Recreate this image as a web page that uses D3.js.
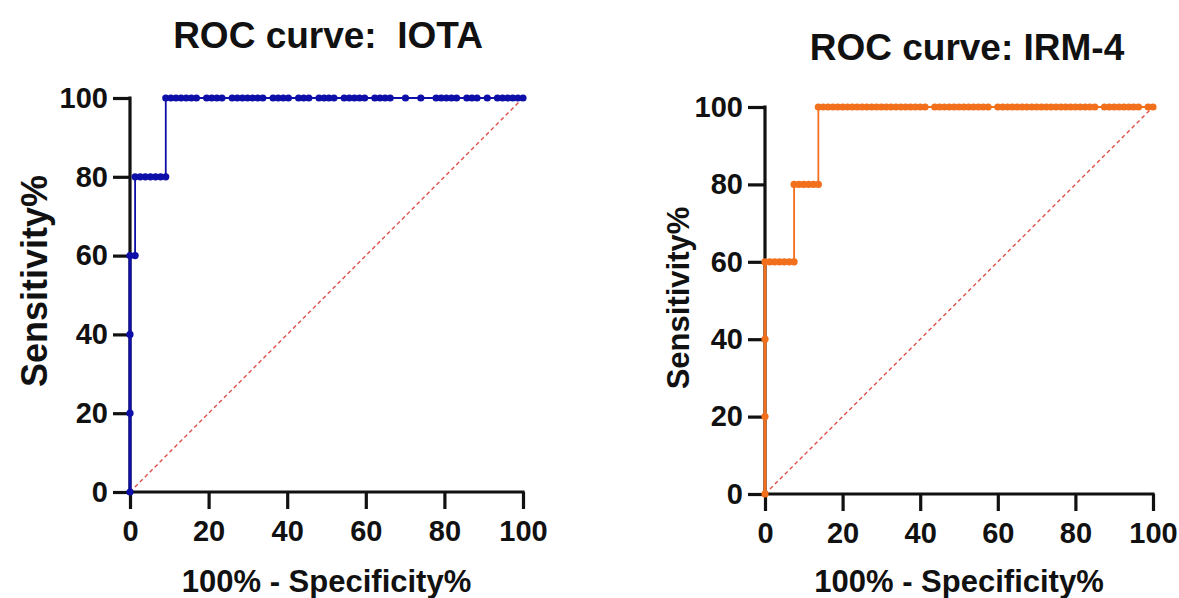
<!DOCTYPE html>
<html>
<head>
<meta charset="utf-8">
<script src="https://cdn.jsdelivr.net/npm/d3@7"></script>
<style>
  html, body { margin: 0; padding: 0; background: #fff; }
  svg { display: block; }
  text { font-family: "Liberation Sans", Arial, sans-serif; font-weight: bold; fill: #111; white-space: pre; }
</style>
</head>
<body>
<svg id="chart" width="1179" height="598"></svg>
<script>
// Axis ticks shared by both panels
const tickValues = [0, 20, 40, 60, 80, 100];

// IOTA: 100% - specificity (%) and sensitivity (%) at each cut-off
const iotaFpr = [0, 0, 0, 0, 1.3, 1.3, 2.6, 3.9, 5.2, 6.5, 7.8, 9.1, 9.1,
  10.4, 11.7, 13.0, 14.3, 15.6, 16.9, 19.5, 20.8, 22.1, 23.4, 26.0, 27.3, 28.6,
  29.9, 31.2, 32.5, 33.8, 36.4, 37.7, 39.0, 40.3, 42.9, 44.2, 45.5, 48.1, 49.4,
  50.6, 51.9, 54.5, 55.8, 57.1, 58.4, 59.7, 62.3, 63.6, 64.9, 66.2, 70.1, 74.0,
  77.9, 79.2, 80.5, 81.8, 83.1, 85.7, 87.0, 88.3, 90.9, 93.5, 94.8, 96.1, 97.4,
  98.7, 100];
const iotaSens = [0, 20, 40, 60, 60, 80, 80, 80, 80, 80, 80, 80, 100,
  100, 100, 100, 100, 100, 100, 100, 100, 100, 100, 100, 100, 100,
  100, 100, 100, 100, 100, 100, 100, 100, 100, 100, 100, 100, 100,
  100, 100, 100, 100, 100, 100, 100, 100, 100, 100, 100, 100, 100,
  100, 100, 100, 100, 100, 100, 100, 100, 100, 100, 100, 100, 100,
  100, 100];

// IRM-4: 100% - specificity (%) and sensitivity (%) at each cut-off
const irmFpr = [0, 0, 0, 0, 1.25, 2.5, 3.75, 5.0, 6.25, 7.5, 7.5, 8.75, 10.0,
  11.25, 12.5, 13.75, 13.75, 15.0, 16.25, 17.5, 18.75, 20.0, 21.25, 22.5, 23.75,
  25.0, 26.25, 27.5, 28.75, 30.0, 31.25, 32.5, 33.75, 35.0, 36.25, 37.5, 38.75,
  40.0, 41.25, 43.75, 45.0, 46.25, 47.5, 48.75, 50.0, 51.25, 52.5, 53.75, 55.0,
  56.25, 57.5, 60.0, 61.25, 62.5, 63.75, 65.0, 66.25, 67.5, 68.75, 70.0, 71.25,
  72.5, 73.75, 75.0, 76.25, 77.5, 78.75, 80.0, 81.25, 82.5, 83.75, 85.0, 87.5,
  88.75, 90.0, 91.25, 92.5, 93.75, 95.0, 96.25, 98.75, 100];
const irmSens = [0, 20, 40, 60, 60, 60, 60, 60, 60, 60, 80, 80, 80,
  80, 80, 80, 100, 100, 100, 100, 100, 100, 100, 100, 100,
  100, 100, 100, 100, 100, 100, 100, 100, 100, 100, 100, 100,
  100, 100, 100, 100, 100, 100, 100, 100, 100, 100, 100, 100,
  100, 100, 100, 100, 100, 100, 100, 100, 100, 100, 100, 100,
  100, 100, 100, 100, 100, 100, 100, 100, 100, 100, 100, 100,
  100, 100, 100, 100, 100, 100, 100, 100, 100];

// Chance line endpoints
const diagonal = [0, 100];

const svg = d3.select("#chart");

const panels = [
  { title: "ROC curve:  IOTA", fpr: iotaFpr, sens: iotaSens, color: "#0e0ea8",
    x0: 130, x1: 523, y0: 492, y1: 98, titleX: 328, titleY: 48, titleSize: 37,
    ylabX: 47, ylabY: 281, ylabSize: 36 },
  { title: "ROC curve: IRM-4", fpr: irmFpr, sens: irmSens, color: "#f26f1c",
    x0: 765, x1: 1153, y0: 494, y1: 107, titleX: 967, titleY: 60, titleSize: 37,
    ylabX: 689, ylabY: 298, ylabSize: 31 }
];

panels.forEach(p => {
  const x = d3.scaleLinear().domain([0, 100]).range([p.x0, p.x1]);
  const y = d3.scaleLinear().domain([0, 100]).range([p.y0, p.y1]);
  const g = svg.append("g");

  // title
  g.append("text")
    .attr("x", p.titleX).attr("y", p.titleY)
    .attr("text-anchor", "middle")
    .style("font-size", p.titleSize + "px")
    .text(p.title);

  // axes
  const xAxis = g.append("g")
    .attr("transform", `translate(0,${p.y0})`)
    .call(d3.axisBottom(x).tickValues(tickValues).tickSize(17).tickPadding(11));
  const yAxis = g.append("g")
    .attr("transform", `translate(${p.x0},0)`)
    .call(d3.axisLeft(y).tickValues(tickValues).tickSize(17).tickPadding(5));
  [xAxis, yAxis].forEach(a => {
    a.select(".domain").remove();
    a.selectAll(".tick line").attr("stroke", "#111").attr("stroke-width", 3.2);
    a.selectAll(".tick text").style("font-size", "29px")
      .style("font-family", "'Liberation Sans', Arial, sans-serif")
      .style("font-weight", "bold").attr("fill", "#111");
  });
  g.append("line").attr("x1", p.x0 - 1.6).attr("x2", p.x1 + 1.6)
    .attr("y1", p.y0).attr("y2", p.y0)
    .attr("stroke", "#111").attr("stroke-width", 3.2);
  g.append("line").attr("x1", p.x0).attr("x2", p.x0)
    .attr("y1", p.y0 + 1.6).attr("y2", p.y1 - 1.6)
    .attr("stroke", "#111").attr("stroke-width", 3.2);

  // axis titles
  g.append("text")
    .attr("x", (p.x0 + p.x1) / 2).attr("y", 592)
    .attr("text-anchor", "middle")
    .style("font-size", "31px")
    .text("100% - Specificity%");
  g.append("text")
    .attr("transform", `translate(${p.ylabX},${p.ylabY}) rotate(-90)`)
    .attr("text-anchor", "middle")
    .style("font-size", p.ylabSize + "px")
    .text("Sensitivity%");

  // chance diagonal
  g.append("line")
    .attr("x1", x(diagonal[0])).attr("y1", y(diagonal[0]))
    .attr("x2", x(diagonal[1])).attr("y2", y(diagonal[1]))
    .attr("stroke", "#e0504a").attr("stroke-width", 1.4)
    .attr("stroke-dasharray", "4,3");

  const pts = p.fpr.map((f, i) => ({ f, s: p.sens[i] }));

  // ROC curve
  g.append("path")
    .datum(pts)
    .attr("fill", "none")
    .attr("stroke", p.color)
    .attr("stroke-width", 1.8)
    .attr("d", d3.line().x(d => x(d.f)).y(d => y(d.s)));

  // heavier segment along the y axis at x = 0
  const onAxis = pts.filter(d => d.f === 0);
  g.append("line")
    .attr("x1", x(0)).attr("x2", x(0))
    .attr("y1", y(d3.min(onAxis, d => d.s))).attr("y2", y(d3.max(onAxis, d => d.s)))
    .attr("stroke", p.color).attr("stroke-width", 3);

  g.selectAll("circle.pt")
    .data(pts)
    .join("circle")
    .attr("class", "pt")
    .attr("cx", d => x(d.f))
    .attr("cy", d => y(d.s))
    .attr("r", 3.6)
    .attr("fill", p.color);
});
</script>
</body>
</html>
